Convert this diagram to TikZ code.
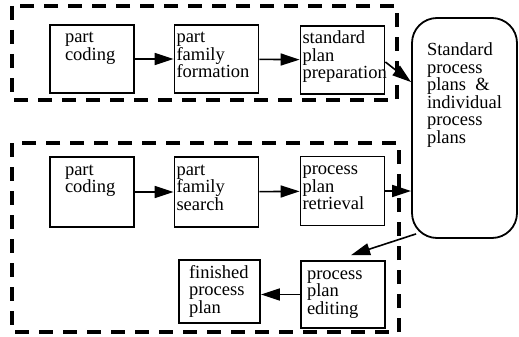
\documentclass[tikz,border=0pt]{standalone}
\usepackage{fontspec}
\setmainfont{Liberation Serif}
\usetikzlibrary{arrows.meta}

\begin{document}
\begin{tikzpicture}[x=1pt,y=-1pt,>={Triangle[length=19pt,width=12pt]},
  font=\fontsize{18.5}{17.5}\selectfont,
  pbox/.style={draw,line width=1.8pt,align=left,inner xsep=2pt,inner ysep=6pt,
    text width=80pt,text height=12pt,text depth=#1},
  pbox/.default=44pt,
  store/.style={draw,line width=1.8pt,rounded corners=25pt,inner sep=0pt,
    minimum width=105pt,minimum height=220pt},
  frame/.style={line width=3.5pt,dash pattern=on 14pt off 10pt},
  link/.style={->,line width=1.6pt}]
\useasboundingbox (0,0) rectangle (519,337);
% dashed groups
\draw[frame] (12,6) rectangle (397,100);
\draw[frame] (12,143) rectangle (399,332);
% top row
\node[pbox,inner xsep=15pt,text width=54pt] (code1) at (92,59) {part\\coding};
\node[pbox] (form) at (216.5,59) {part\\family\\formation};
\node[pbox] (prep) at (342.5,60) {standard\\plan\\preparation};
% store of plans
\node[store] (plans) at (464.5,128)
  {\parbox[c][170pt][t]{75pt}{Standard\\process\\plans~~\&\\individual\\process\\plans}};
% middle row
\node[pbox=46pt,inner xsep=15pt,text width=54pt] (code2) at (92,192) {part\\coding};
\node[pbox=46pt] (search) at (216.5,192) {part\\family\\search};
\node[pbox=45pt] (retr) at (342.5,191) {process\\plan\\retrieval};
% bottom row
\node[pbox=39pt,inner xsep=10pt,text width=61pt] (fin) at (219.5,291.5) {finished\\process\\plan};
\node[pbox=43pt,inner xsep=6pt,text width=72pt] (edit) at (343,294.5) {process\\plan\\editing};
% arrows
\draw[link] (code1) -- (form);
\draw[link] (form) -- (prep);
\draw[link] ([yshift=-2pt]prep.east) -- ([yshift=-65pt]plans.north west);
\draw[link] (code2) -- (search);
\draw[link] (search) -- (retr);
\draw[link] (retr.east) -- (retr.east -| plans.west);
\draw[link] ([xshift=5pt,yshift=5pt]plans.south west) -- ([xshift=51pt,yshift=5pt]edit.north west);
\draw[link] (edit.west) -- (edit.west -| fin.east);
\end{tikzpicture}
\end{document}
